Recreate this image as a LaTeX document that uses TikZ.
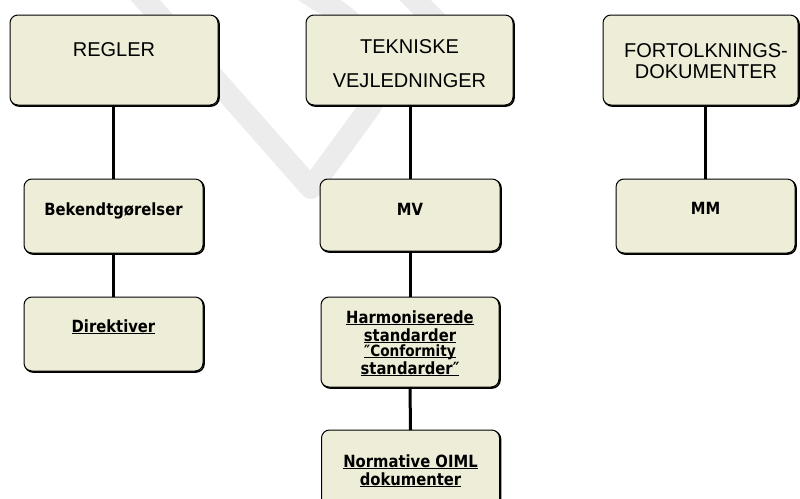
\documentclass[tikz,border=0pt]{standalone}
\usepackage{fontspec}
\newfontfamily\topfont{Liberation Sans}
\newfontfamily\lowfont{DejaVu Sans}[FakeStretch=0.88]
\definecolor{boxfill}{RGB}{238,237,216}
\definecolor{wm}{RGB}{236,236,236}
\newsavebox\ulbox
\newcommand\myul[1]{\sbox\ulbox{#1}\rlap{\rule[-2.2pt]{\wd\ulbox}{1pt}}\usebox\ulbox}
\tikzset{
  box/.style={draw=black, line width=1pt, fill=boxfill, rounded corners=8pt,
    inner sep=0pt, outer sep=0pt,
    preaction={draw=black, line width=1.6pt, transform canvas={xshift=1pt,yshift=-1pt}}},
  conn/.style={draw=black, line width=3pt},
  toptext/.style={anchor=base, inner sep=0pt, font=\topfont\fontsize{20}{24}\selectfont},
  lowtext/.style={anchor=base, inner sep=0pt, font=\lowfont\bfseries\fontsize{16.8}{19}\selectfont},
  wmband/.style={draw=wm, line width=22pt, line join=round}
}
\begin{document}
\begin{tikzpicture}[x=1pt, y=-1pt]
\useasboundingbox (0,0) rectangle (800,498);
\clip (0,0) rectangle (800,498);
\fill[white] (0,0) rectangle (800,498);
% watermark
\draw[wmband] (132,-15) -- (311,188) -- (368,110) .. controls (395,72) and (370,25) .. (318,0) -- (300,-12);
\draw[wmband] (400,-15) -- (480,65);
% boxes
\node[box, minimum width=208pt, minimum height=90pt] (A) at (114,60) {};
\node[box, minimum width=207pt, minimum height=90pt] (B) at (409.5,60) {};
\node[box, minimum width=195pt, minimum height=90pt] (C) at (700.5,60) {};
\node[box, minimum width=179pt, minimum height=74pt] (D) at (113.5,216) {};
\node[box, minimum width=180pt, minimum height=72pt] (E) at (410,215) {};
\node[box, minimum width=179pt, minimum height=74pt] (F) at (705.5,216) {};
\node[box, minimum width=179pt, minimum height=74pt] (G) at (113.5,334) {};
\node[box, minimum width=178pt, minimum height=90pt] (H) at (410,342) {};
\node[box, minimum width=178pt, minimum height=90pt] (I) at (410.5,475) {};
% connectors
\draw[conn] (D.north |- A.south) -- (D.north);
\draw[conn] (D.south) -- (G.north);
\draw[conn] (E.north |- B.south) -- (E.north);
\draw[conn] (E.south) -- (H.north);
\draw[conn] (H.south) -- (I.north);
\draw[conn] (F.north |- C.south) -- (F.north);
% texts
\node[toptext] (tA) at (114,56) {REGLER};
\node[toptext] (tB1) at (409.5,53) {TEKNISKE};
\node[toptext] (tB2) at (409.5,87) {VEJLEDNINGER};
\node[toptext] (tC1) at (706,57) {FORTOLKNINGS-};
\node[toptext] (tC2) at (706,78) {DOKUMENTER};
\node[lowtext] (tD) at (113.5,215) {Bekendtgørelser};
\node[lowtext] (tE) at (410,215) {MV};
\node[lowtext] (tF) at (705.5,214) {MM};
\node[lowtext] (tG) at (113.5,332) {\myul{Direktiver}};
\node[lowtext] (tH1) at (410,323) {\myul{Harmoniserede}};
\node[lowtext] (tH2) at (410,341) {\myul{standarder}};
\node[lowtext, font=\lowfont\bfseries\fontsize{15.5}{17}\selectfont] (tH3) at (410,356) {\myul{″Conformity}};
\node[lowtext] (tH4) at (410,374) {\myul{standarder″}};
\node[lowtext] (tI1) at (410.5,467) {\myul{Normative OIML}};
\node[lowtext] (tI2) at (410.5,485) {\myul{dokumenter}};
\end{tikzpicture}
\end{document}
